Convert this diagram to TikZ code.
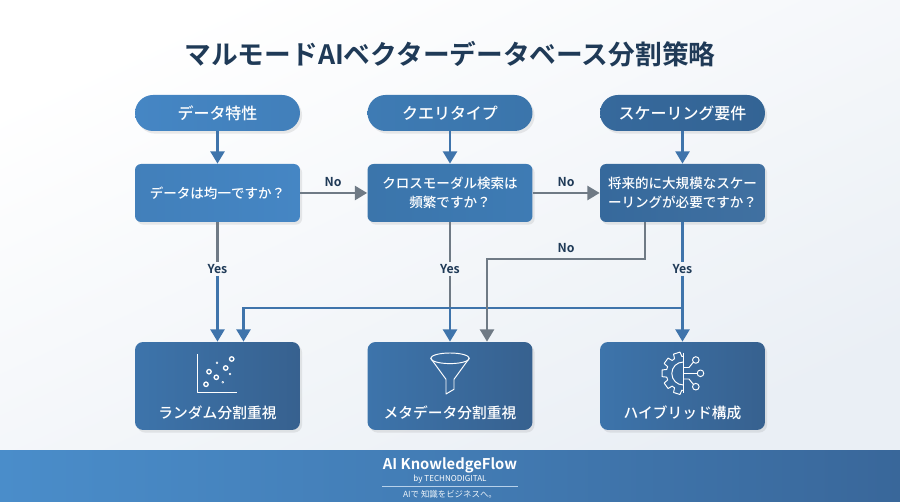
\documentclass[tikz,border=0pt]{standalone}
\usepackage{xcolor}
\usepackage{fontspec}
\setmainfont{Noto Sans CJK JP}[BoldFont={Noto Sans CJK JP Medium}]
\newfontfamily\titlefont{Noto Sans CJK JP Bold}
\usetikzlibrary{arrows.meta,calc,shadows}

\definecolor{inkdark}{HTML}{1F3A57}
\definecolor{linkblue}{HTML}{3F74AB}
\definecolor{linkgray}{HTML}{6F7A85}
\definecolor{blueA}{HTML}{4586C4}
\definecolor{blueB}{HTML}{3E7BB4}
\definecolor{blueC}{HTML}{36699C}
\definecolor{resleft}{HTML}{3D74AB}
\definecolor{resright}{HTML}{37618F}
\definecolor{footleft}{HTML}{4A8DCA}
\definecolor{footright}{HTML}{39679A}
\definecolor{paper}{HTML}{EAEFF5}

\tikzset{
    softshadow/.style={drop shadow={opacity=0.16,shadow xshift=1.2pt,shadow yshift=-1.5pt}},
    pill/.style={softshadow, minimum width=3.3cm, minimum height=0.72cm, rounded corners=0.36cm,
        font=\bfseries\fontsize{9.1}{11}\selectfont, text=white},
    question/.style={softshadow, minimum width=3.3cm, minimum height=1.16cm, rounded corners=0.12cm,
        align=center, font=\bfseries\fontsize{7.7}{10.5}\selectfont, text=white},
    result/.style={softshadow, minimum width=3.3cm, minimum height=1.76cm, rounded corners=0.16cm,
        left color=resleft, right color=resright},
    resultlabel/.style={font=\bfseries\fontsize{8.4}{10}\selectfont, text=white},
    answer/.style={font=\titlefont\fontsize{7}{9}\selectfont, text=inkdark, inner sep=1pt},
    bluelink/.style={draw=linkblue, line width=1.3pt},
    graylink/.style={draw=linkgray, line width=1.3pt},
    icon/.style={draw=white, line width=0.55pt, line join=round},
    >={Triangle[length=7pt,width=8pt]}
}

\begin{document}
\begin{tikzpicture}[x=0.02cm,y=-0.02cm]

    % Background
    \useasboundingbox (0,0) rectangle (900,502);
    \shade[left color=white, right color=paper, shading angle=25] (0,0) rectangle (900,451);
    \shade[left color=footleft, right color=footright, middle color=footleft!55!footright] (0,451) rectangle (900,502);

    \node[text=inkdark, font=\titlefont\fontsize{15.2}{18}\selectfont] (title) at (450,54) {マルモードAIベクターデータベース分割策略};

    % Start
    \node[pill, left color=blueA, right color=blueA!95!black] (starta) at (217.5,113) {データ特性};
    \node[pill, left color=blueB, right color=blueB!95!black] (startb) at (450,113) {クエリタイプ};
    \node[pill, left color=blueC, right color=blueC!95!black] (startc) at (682.5,113) {スケーリング要件};

    % Questions
    \node[question, left color=blueA!95!black, right color=blueA] (qa) at (217.5,193) {データは均一ですか？};
    \node[question, left color=blueB!95!black, right color=blueB] (qb) at (450,193) {クロスモーダル検索は\\頻繁ですか？};
    \node[question, left color=blueC, right color=blueC!95!white] (qc) at (682.5,193) {将来的に大規模なスケー\\ーリングが必要ですか？};

    % Results
    \node[result] (ra) at (217.5,386) {};
    \node[result] (rb) at (450,386) {};
    \node[result] (rc) at (682.5,386) {};
    \node[resultlabel] (la) at (217.5,413) {ランダム分割重視};
    \node[resultlabel] (lb) at (450,413) {メタデータ分割重視};
    \node[resultlabel] (lc) at (682.5,413) {ハイブリッド構成};

    % Answers
    \node[answer] (noa) at (333,182) {No};
    \node[answer] (nob) at (566,182) {No};
    \node[answer] (noc) at (566,248) {No};
    \node[answer] (yesa) at (217.5,269) {Yes};
    \node[answer] (yesb) at (450,269) {Yes};
    \node[answer] (yesc) at (682.5,269) {Yes};

    % Arrows
    \draw[bluelink,->] (starta) -- (qa);
    \draw[bluelink,->] (startb) -- (qb);
    \draw[bluelink,->] (startc) -- (qc);
    \draw[graylink,->] (qa) -- (qb);
    \draw[graylink,->] (qb) -- (qc);

    \coordinate (crossb) at (450,308);
    \coordinate (branch) at (682.5,308);
    \draw[graylink] (qa) -- (yesa);
    \draw[bluelink,->] (yesa) -- (ra);
    \draw[graylink] (qb) -- (yesb);
    \draw[graylink] (yesb) -- (crossb);
    \draw[bluelink,->] (crossb) -- (rb);
    \draw[bluelink] (qc) -- (yesc);
    \draw[bluelink,->] (yesc) -- (rc);
    \draw[bluelink,->] (branch) -| ($(ra.north)+(26,0)$);
    \draw[graylink,->] ($(qc.south)+(-37.5,0)$) -- ++(0,37) -| ($(rb.north)+(37,0)$);

    % Scatter icon
    \draw[icon] (197.7,354) -- (197.7,392.7) -- (237,392.7);
    \foreach \px/\py in {206/384.3,216.3/377.3,209/371.7,225.7/368,231.7/359} {
        \draw[icon, line width=0.75pt] (\px,\py) circle (2.2);
    }
    \foreach \px/\py in {217/362.7,222.7/382.3,230/374} {
        \draw[icon, line width=0.3pt] (\px,\py) circle (1);
    }

    % Funnel icon
    \draw[icon] (450,358.3) ellipse (19.3 and 5.3);
    \draw[icon] (430.7,358.3) -- (446,379.3) -- (446,394) -- (454,389.3) -- (454,379.3) -- (469.3,358.3);

    % Gear icon
    \draw[icon] (683.3,352.7) -- (683.3,393.3);
    \draw[icon] (683.3,362) arc (270:90:11.5);
    \draw[icon] (683.3,356.3)
      \foreach \ang in {108,144,180,216,252} {
        -- ({683.3+17*cos(\ang-13)},{373.3-17*sin(\ang-13)})
        -- ({683.3+21.5*cos(\ang-9)},{373.3-21.5*sin(\ang-9)})
        -- ({683.3+21.5*cos(\ang+9)},{373.3-21.5*sin(\ang+9)})
        -- ({683.3+17*cos(\ang+13)},{373.3-17*sin(\ang+13)})
      }
      -- (683.3,390.3);
    \draw[icon] (683.3,367.5) -- (689,367.5) -- (693.5,362);
    \draw[icon] (683.3,373.3) -- (697,373.3);
    \draw[icon] (683.3,379) -- (689,379) -- (693.5,384.5);
    \draw[icon] (695.8,360) circle (3.3);
    \draw[icon] (700.5,373.3) circle (3.3);
    \draw[icon] (695.8,386.7) circle (3.3);

    % Footer
    \node[text=white, font=\titlefont\fontsize{8.4}{10}\selectfont] (brand) at (450,465.5) {AI KnowledgeFlow};
    \node[text=white, font=\fontsize{4.6}{6}\selectfont] (byline) at (450,479) {by TECHNODIGITAL};
    \coordinate (rulea) at (382,486);
    \coordinate (ruleb) at (518,486);
    \draw[white!60!footleft, line width=0.4pt] (rulea) -- (ruleb);
    \node[text=white!90!footleft, font=\fontsize{4.8}{6}\selectfont] (tagline) at (450,494) {AIで 知識をビジネスへ。};
\end{tikzpicture}
\end{document}
